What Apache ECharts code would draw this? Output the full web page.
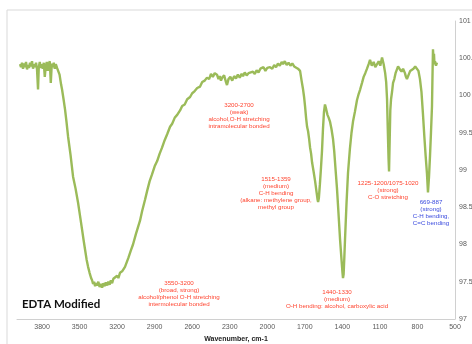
<!DOCTYPE html>
<html>
<head>
<meta charset="utf-8">
<script src="https://cdn.jsdelivr.net/npm/echarts@6/dist/echarts.min.js"></script>
<style>html,body{margin:0;padding:0;background:#fff}#c{width:472px;height:344px}</style>
</head>
<body>
<div id="c"></div>
<script>
var chartTitle = 'EDTA Modified';
var xAxisName = 'Wavenumber, cm-1';
var wavenumber = [3976,3968,3960,3952,3944,3936,3928,3920,3912,3904,3896,3888,3880,3872,3864,3856,3848,3840,3832,3826,3818,3810,3802,3794,3786,3778,3770,3762,3754,3746,3738,3730,3722,3714,3706,3698,3690,3680,3672,3660,3648,3640,3628,3616,3604,3592,3572,3552,3532,3512,3496,3480,3468,3456,3444,3432,3420,3408,3400,3392,3384,3376,3368,3360,3350,3340,3330,3320,3310,3300,3290,3280,3270,3260,3250,3240,3230,3216,3200,3190,3177,3160,3137,3110,3090,3073,3050,3030,3017,3000,2977,2960,2940,2921,2900,2880,2860,2841,2820,2800,2777,2760,2740,2720,2697,2680,2660,2640,2617,2600,2580,2560,2537,2520,2500,2482,2465,2450,2435,2420,2402,2390,2380,2370,2360,2345,2330,2322,2310,2295,2280,2265,2250,2235,2220,2205,2194,2180,2165,2150,2135,2114,2100,2085,2070,2055,2042,2030,2015,2000,1990,1978,1960,1945,1930,1915,1900,1885,1874,1860,1845,1830,1815,1800,1785,1770,1755,1738,1726,1714,1706,1698,1690,1682,1674,1666,1658,1650,1642,1630,1618,1606,1598,1594,1588,1580,1572,1563,1555,1547,1539,1530,1519,1509,1499,1487,1475,1465,1455,1443,1431,1419,1407,1399,1395,1390,1385,1379,1367,1355,1340,1327,1315,1300,1283,1270,1258,1243,1230,1217,1203,1190,1179,1165,1150,1137,1123,1110,1097,1083,1070,1058,1050,1043,1038,1031,1027,1022,1017,1011,1003,995,985,975,965,955,940,927,915,900,892,884,870,858,844,832,818,804,792,780,768,756,745,735,724,716,708,700,692,684,680,676,672,668,664,660,652,644];
var transmittance = [100.42,100.38,100.44,100.36,100.43,100.38,100.45,100.35,100.41,100.37,100.44,100.39,100.46,100.36,100.42,100.38,100.44,100.35,100.08,100.38,100.45,100.37,100.42,100.36,100.44,100.25,100.40,100.45,100.33,100.42,100.46,100.17,100.43,100.38,100.44,100.36,100.42,100.37,100.38,100.28,100.15,100.08,99.95,99.81,99.64,99.45,99.2,98.91,98.75,98.56,98.38,98.20,98.06,97.93,97.80,97.70,97.62,97.55,97.52,97.47,97.50,97.44,97.48,97.45,97.50,97.43,97.47,97.42,97.48,97.44,97.49,97.45,97.50,97.46,97.52,97.48,97.54,97.52,97.58,97.55,97.62,97.64,97.70,97.82,97.92,98.0,98.14,98.25,98.32,98.45,98.60,98.72,98.85,98.94,99.05,99.12,99.22,99.30,99.40,99.48,99.58,99.62,99.70,99.74,99.80,99.86,99.88,99.95,99.98,100.03,100.06,100.10,100.12,100.18,100.20,100.24,100.22,100.29,100.25,100.30,100.28,100.22,100.26,100.20,100.24,100.27,100.18,100.14,100.22,100.25,100.20,100.26,100.23,100.28,100.24,100.29,100.26,100.31,100.27,100.30,100.28,100.32,100.29,100.34,100.31,100.36,100.34,100.38,100.33,100.37,100.35,100.38,100.36,100.41,100.38,100.43,100.40,100.45,100.42,100.46,100.41,100.44,100.40,100.43,100.39,100.41,100.36,100.33,100.20,100.08,99.98,99.85,99.70,99.58,99.52,99.42,99.30,99.22,99.10,98.98,98.85,98.70,98.60,98.57,98.62,98.80,99.0,99.25,99.55,99.78,99.88,99.82,99.74,99.70,99.65,99.55,99.42,99.25,99.02,98.75,98.42,98.08,97.80,97.62,97.55,97.60,97.80,98.06,98.55,98.96,99.28,99.50,99.65,99.78,99.94,100.02,100.08,100.17,100.25,100.30,100.36,100.42,100.48,100.40,100.45,100.38,100.42,100.46,100.40,100.51,100.42,100.30,100.18,99.95,99.60,99.15,98.98,99.40,99.80,99.95,100.05,100.17,100.22,100.30,100.28,100.39,100.35,100.32,100.36,100.30,100.25,100.22,100.28,100.33,100.31,100.36,100.39,100.40,100.33,100.22,100.05,99.75,99.45,99.20,98.95,98.70,98.90,99.18,99.50,99.85,100.25,100.62,100.50,100.56,100.42,100.46,100.40,100.44];

var annoRed1 = ['3200-2700','(weak)','alcohol,O-H stretching','intramolecular bonded'];
var annoRed2 = ['1515-1359','(medium)','C-H bending','(alkane: methylene group,','methyl group'];
var annoRed3 = ['1225-1200/1075-1020','(strong)','C-O stretching'];
var annoBlue = ['669-887','(strong)','C-H bending,','C=C bending'];
var annoRed4 = ['3550-3200','(broad, strong)','alcohol/phenol O-H stretching','intermolecular bonded'];
var annoRed5 = ['1440-1330','(medium)','O-H bending: alcohol, carboxylic acid'];

var seriesData = wavenumber.map(function (w, i) { return [w, transmittance[i]]; });
var RED = '#ff4530', BLUE = '#3a4ade';
function anno(lines, x, y, color) {
  return {
    type: 'text', x: x, y: y, z: 100,
    style: { text: lines.join('\n'), fill: color, font: '6.2px "Liberation Sans", Arial, sans-serif',
      align: 'center', verticalAlign: 'top', lineHeight: 7 }
  };
}
var chart = echarts.init(document.getElementById('c'), null, { renderer: 'canvas' });
chart.setOption({
  animation: false,
  backgroundColor: '#fff',
  grid: { left: 17, right: 17, top: 21, bottom: 25, containLabel: false, outerBoundsMode: 'none' },
  xAxis: {
    type: 'value', inverse: true, min: 500, max: 4000, interval: 300,
    name: xAxisName, nameLocation: 'middle', nameGap: 17,
    nameTextStyle: { fontSize: 7, fontWeight: 'bold', color: '#222', fontFamily: '"Liberation Sans", Arial' },
    axisLine: { show: true, lineStyle: { color: '#d0d0d0', width: 1 } },
    axisTick: { show: false },
    splitLine: { show: false },
    axisLabel: { fontSize: 7, color: '#595959', margin: 5, fontFamily: '"Liberation Sans", Arial',
      formatter: function (v) { return v >= 4000 ? '' : String(v); } }
  },
  yAxis: {
    type: 'value', position: 'right', min: 97, max: 101, interval: 0.5,
    axisLine: { show: true, lineStyle: { color: '#d0d0d0', width: 1 } },
    axisTick: { show: false },
    splitLine: { show: false },
    axisLabel: { fontSize: 7, color: '#595959', margin: 4, fontFamily: '"Liberation Sans", Arial' }
  },
  series: [{
    type: 'line', data: seriesData, showSymbol: false, symbol: 'none',
    lineStyle: { color: '#9bbb59', width: 2.4 }, smooth: false
  }],
  graphic: [
    { type: 'rect', shape: { x: 7, y: 10, width: 500, height: 400 }, style: { fill: 'none', stroke: '#d9d9d9', lineWidth: 1 }, z: 0, silent: true },
    { type: 'text', x: 22, y: 298, z: 100, style: { text: chartTitle, fill: '#111', font: 'bold 11.5px Lato, "Open Sans", sans-serif' } },
    anno(annoRed1, 239, 101.5, RED),
    anno(annoRed2, 276, 175.5, RED),
    anno(annoRed3, 388, 179.5, RED),
    anno(annoBlue, 431, 198.5, BLUE),
    anno(annoRed4, 179, 279.5, RED),
    anno(annoRed5, 337, 288.5, RED)
  ]
});
</script>
</body>
</html>
